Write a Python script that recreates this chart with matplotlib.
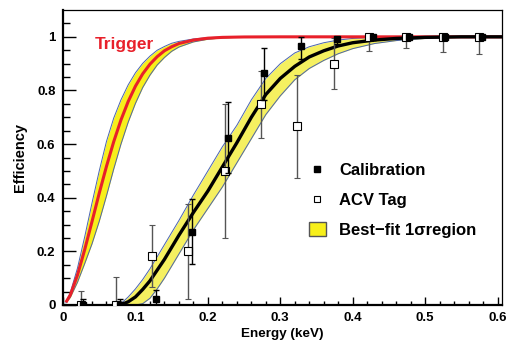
import numpy as np
import matplotlib.pyplot as plt
from matplotlib.lines import Line2D
from matplotlib.patches import Patch

plt.rcParams['font.family'] = ['Liberation Sans', 'DejaVu Sans']
plt.rcParams['font.weight'] = 'bold'

# trigger efficiency curve and its 1 sigma band
trig_x = [0.004, 0.01, 0.02, 0.03, 0.04, 0.05, 0.06, 0.07, 0.08, 0.09, 0.10,
          0.11, 0.12, 0.13, 0.14, 0.15, 0.16, 0.18, 0.20, 0.22, 0.25, 0.30, 0.61]
trig_y = [0.010, 0.037, 0.112, 0.207, 0.311, 0.417, 0.517, 0.609, 0.690, 0.759, 0.816,
          0.862, 0.898, 0.926, 0.948, 0.963, 0.975, 0.988, 0.995, 0.998, 0.9995, 1.0, 1.0]
trig_hi = [0.012, 0.046, 0.138, 0.255, 0.380, 0.500, 0.610, 0.697, 0.765, 0.821, 0.866,
           0.901, 0.928, 0.950, 0.964, 0.976, 0.983, 0.992, 0.997, 0.999, 1.0, 1.0, 1.0]
trig_lo = [0.008, 0.028, 0.085, 0.155, 0.228, 0.312, 0.407, 0.507, 0.600, 0.682, 0.752,
           0.811, 0.857, 0.895, 0.923, 0.946, 0.962, 0.981, 0.991, 0.996, 0.999, 1.0, 1.0]

# best-fit efficiency curve and its 1 sigma band
fit_x = [0.075, 0.08, 0.09, 0.10, 0.11, 0.12, 0.13, 0.14, 0.15, 0.16, 0.18, 0.20, 0.22,
         0.24, 0.26, 0.28, 0.30, 0.32, 0.34, 0.36, 0.38, 0.40, 0.43, 0.46, 0.50, 0.55, 0.61]
fit_y = [0.0, 0.001, 0.012, 0.030, 0.058, 0.090, 0.130, 0.170, 0.215, 0.260, 0.345, 0.425,
         0.515, 0.605, 0.700, 0.785, 0.845, 0.890, 0.925, 0.948, 0.966, 0.978, 0.988, 0.994,
         0.998, 1.0, 1.0]
fit_hi = [0.0, 0.005, 0.030, 0.060, 0.095, 0.135, 0.180, 0.225, 0.270, 0.315, 0.410, 0.500,
          0.590, 0.670, 0.765, 0.845, 0.900, 0.940, 0.963, 0.978, 0.988, 0.994, 0.998, 1.0,
          1.0, 1.0, 1.0]
fit_lo = [0.0, 0.0, 0.0, 0.0, 0.005, 0.025, 0.060, 0.100, 0.145, 0.190, 0.280, 0.360,
          0.440, 0.530, 0.620, 0.710, 0.780, 0.840, 0.882, 0.912, 0.937, 0.956, 0.975, 0.986,
          0.994, 0.998, 1.0]

# calibration points
cal_x = [0.028, 0.078, 0.128, 0.178, 0.228, 0.278, 0.328, 0.378, 0.428, 0.478, 0.528, 0.578]
cal_y = [0.0, 0.0, 0.021, 0.272, 0.624, 0.864, 0.966, 0.993, 1.0, 1.0, 1.0, 1.0]
cal_lo = [0.0, 0.0, 0.021, 0.12, 0.133, 0.10, 0.048, 0.02, 0.01, 0.0, 0.0, 0.0]
cal_hi = [0.024, 0.024, 0.035, 0.122, 0.132, 0.094, 0.033, 0.007, 0.0, 0.0, 0.0, 0.0]

# ACV tagged points
acv_x = [0.0245, 0.073, 0.1235, 0.173, 0.223, 0.273, 0.323, 0.374, 0.423, 0.474, 0.524, 0.574]
acv_y = [0.0, 0.0, 0.183, 0.20, 0.50, 0.75, 0.668, 0.899, 1.0, 1.0, 1.0, 1.0]
acv_lo = [0.0, 0.0, 0.115, 0.178, 0.251, 0.126, 0.193, 0.094, 0.052, 0.042, 0.055, 0.065]
acv_hi = [0.053, 0.105, 0.117, 0.177, 0.25, 0.124, 0.19, 0.096, 0.0, 0.0, 0.0, 0.0]

yellow = '#f7ef1a'
edge = '#4a64b0'

fig = plt.figure(figsize=(5.07, 3.43), dpi=100)
ax = fig.add_axes([0.1243, 0.1108, 0.8657, 0.86])

ax.fill_between(trig_x, trig_lo, trig_hi, color=yellow, lw=0, zorder=1)
ax.plot(trig_x, trig_hi, color=edge, lw=0.7, zorder=1.5)
ax.plot(trig_x, trig_lo, color=edge, lw=0.7, zorder=1.5)

ax.fill_between(fit_x, fit_lo, fit_hi, color='#f5f060', lw=0, zorder=2)
ax.plot(fit_x, fit_hi, color=edge, lw=0.7, zorder=2.5)
ax.plot(fit_x, fit_lo, color=edge, lw=0.7, zorder=2.5)

ax.plot(trig_x, trig_y, color='#e8202a', lw=2.2, zorder=3, solid_capstyle='butt')
ax.plot(fit_x, fit_y, color='black', lw=2.4, zorder=4, solid_capstyle='butt')

ax.errorbar(acv_x, acv_y, yerr=[acv_lo, acv_hi], fmt='s', mfc='white', mec='black',
            ms=5.5, mew=0.8, ecolor='#555555', elinewidth=1.0, capsize=2, capthick=1.0,
            zorder=5)
ax.errorbar(cal_x, cal_y, yerr=[cal_lo, cal_hi], fmt='s', mfc='black', mec='black',
            ms=5, ecolor='black', elinewidth=1.0, capsize=2, capthick=1.0, zorder=6)

ax.text(0.044, 0.97, 'Trigger', color='#e8202a', fontsize=12.5, fontweight='bold',
        ha='left', va='center')

handles = [Line2D([], [], ls='none', marker='s', mfc='black', mec='black', ms=4),
           Line2D([], [], ls='none', marker='s', mfc='white', mec='black', ms=4.5, mew=0.8),
           Patch(facecolor=yellow, edgecolor='#555555', lw=1.0)]
labels = ['Calibration', 'ACV Tag', 'Best\u2212fit 1\u03c3region']
ax.legend(handles, labels, loc='upper left', bbox_to_anchor=(0.545, 0.505),
          frameon=False, fontsize=12, labelspacing=0.85, handlelength=1.0,
          handleheight=0.9, handletextpad=0.8, borderaxespad=0)

ax.set_xlim(0, 0.606)
ax.set_ylim(0, 1.1)
ax.set_xticks(np.arange(0, 0.61, 0.1))
ax.set_xticklabels(['0', '0.1', '0.2', '0.3', '0.4', '0.5', '0.6'])
ax.set_xticks(np.arange(0, 0.61, 0.02), minor=True)
ax.set_yticks([0, 0.2, 0.4, 0.6, 0.8, 1.0])
ax.set_yticklabels(['0', '0.2', '0.4', '0.6', '0.8', '1'])
ax.set_yticks(np.arange(0, 1.1, 0.05), minor=True)

ax.tick_params(axis='both', which='both', direction='in', top=False, right=False,
               labelsize=9.5, width=1.0)
ax.tick_params(axis='y', which='major', length=9.5, pad=5.5)
ax.tick_params(axis='y', which='minor', length=5)
ax.tick_params(axis='x', which='major', length=6, pad=5)
ax.tick_params(axis='x', which='minor', length=3)
for lab in ax.get_xticklabels() + ax.get_yticklabels():
    lab.set_fontweight('bold')

ax.spines['left'].set_linewidth(1.6)
ax.spines['bottom'].set_linewidth(1.6)
ax.spines['top'].set_linewidth(0.9)
ax.spines['right'].set_linewidth(0.9)

ax.set_xlabel('Energy (keV)', fontsize=9.7, fontweight='bold', labelpad=3)
ax.set_ylabel('Efficiency', fontsize=10.5, fontweight='bold', labelpad=7)

fig.savefig('out.png', dpi=100)
